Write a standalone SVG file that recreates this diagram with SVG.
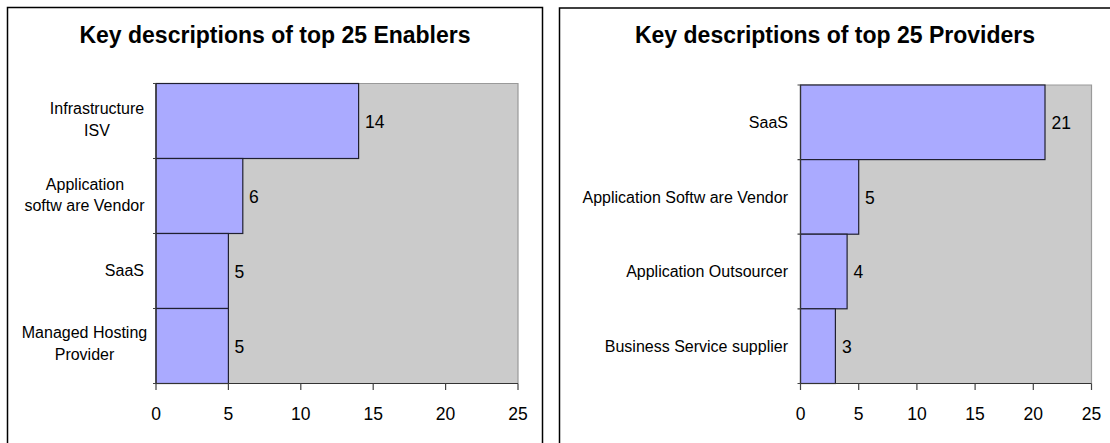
<svg xmlns="http://www.w3.org/2000/svg" width="1110" height="443" viewBox="0 0 1110 443">
<style>
.frame{fill:#fff;stroke:#000;stroke-width:1.5}
.plot{fill:#cbcbcb;stroke:none}
.pborder{fill:none;stroke:#9a9a9a;stroke-width:1.2}
.bar{fill:#aaaaff;stroke:#202030;stroke-width:1.2}
.axis{fill:none;stroke:#333;stroke-width:1.2}
.tick{fill:none;stroke:#444;stroke-width:1.2}
.title{font-family:"Liberation Sans",Arial,sans-serif;font-weight:bold;font-size:23px;fill:#000;text-anchor:middle}
.cat{font-family:"Liberation Sans",Arial,sans-serif;font-size:16px;fill:#000}
.catr{text-anchor:end}
.catm{text-anchor:middle}
.val{font-family:"Liberation Sans",Arial,sans-serif;font-size:17.5px;fill:#000}
.tl{font-family:"Liberation Sans",Arial,sans-serif;font-size:17.5px;fill:#000;text-anchor:middle}
</style>
<rect width="1110" height="443" fill="#fff"/>

<g id="chart-enablers">
  <rect class="frame" x="7.5" y="7.5" width="535" height="470"/>
  <text class="title" x="275" y="43">Key descriptions of top 25 Enablers</text>
  <rect class="plot" x="156" y="83.5" width="362" height="300"/>
  <path class="pborder" d="M156 83.5 H518 V383.5"/>
  <g id="enabler-infrastructure-isv">
    <rect class="bar" x="156" y="83.5" width="202.6" height="75"/>
    <text class="cat catm" x="97" y="113.5">Infrastructure</text>
    <text class="cat catm" x="97" y="135.5">ISV</text>
    <text class="val" x="365" y="127.5">14</text>
  </g>
  <g id="enabler-application-software-vendor">
    <rect class="bar" x="156" y="158.5" width="86.8" height="75"/>
    <text class="cat catm" x="85" y="189.5">Application</text>
    <text class="cat catm" x="84.5" y="211">softw are Vendor</text>
    <text class="val" x="249" y="202.5">6</text>
  </g>
  <g id="enabler-saas">
    <rect class="bar" x="156" y="233.5" width="72.4" height="75"/>
    <text class="cat catr" x="144" y="276">SaaS</text>
    <text class="val" x="234.5" y="277.5">5</text>
  </g>
  <g id="enabler-managed-hosting-provider">
    <rect class="bar" x="156" y="308.5" width="72.4" height="75"/>
    <text class="cat catm" x="84.5" y="337.5">Managed Hosting</text>
    <text class="cat catm" x="84.5" y="360">Provider</text>
    <text class="val" x="234.5" y="352.5">5</text>
  </g>
  <g id="enabler-axes">
    <path class="axis" d="M156 83.5 V383.5 H518"/>
    <path class="tick" d="M153 83.5 H156 M153 158.5 H156 M153 233.5 H156 M153 308.5 H156 M153 383.5 H156"/>
    <path class="tick" d="M156 383.5 V390 M228.4 383.5 V390 M300.8 383.5 V390 M373.2 383.5 V390 M445.6 383.5 V390 M518 383.5 V390"/>
    <text class="tl" x="156" y="419.5">0</text>
    <text class="tl" x="228.4" y="419.5">5</text>
    <text class="tl" x="300.8" y="419.5">10</text>
    <text class="tl" x="373.2" y="419.5">15</text>
    <text class="tl" x="445.6" y="419.5">20</text>
    <text class="tl" x="518" y="419.5">25</text>
  </g>
</g>

<g id="chart-providers">
  <rect class="frame" x="559.5" y="8" width="570" height="470"/>
  <text class="title" x="835" y="43">Key descriptions of top 25 Providers</text>
  <rect class="plot" x="800.5" y="85" width="291" height="298.5"/>
  <path class="pborder" d="M800.5 85 H1091.5 V383.5"/>
  <g id="provider-saas">
    <rect class="bar" x="800.5" y="85" width="244.5" height="74.6"/>
    <text class="cat catr" x="788" y="127.8">SaaS</text>
    <text class="val" x="1051.5" y="129">21</text>
  </g>
  <g id="provider-application-software-vendor">
    <rect class="bar" x="800.5" y="159.6" width="58.2" height="74.6"/>
    <text class="cat catr" x="788" y="202.5">Application Softw are Vendor</text>
    <text class="val" x="865" y="203.5">5</text>
  </g>
  <g id="provider-application-outsourcer">
    <rect class="bar" x="800.5" y="234.2" width="46.6" height="74.6"/>
    <text class="cat catr" x="788" y="277">Application Outsourcer</text>
    <text class="val" x="853.5" y="278">4</text>
  </g>
  <g id="provider-business-service-supplier">
    <rect class="bar" x="800.5" y="308.8" width="34.9" height="74.7"/>
    <text class="cat catr" x="788" y="351.5">Business Service supplier</text>
    <text class="val" x="842" y="352.5">3</text>
  </g>
  <g id="provider-axes">
    <path class="axis" d="M800.5 85 V383.5 H1091.5"/>
    <path class="tick" d="M797.5 85 H800.5 M797.5 159.6 H800.5 M797.5 234.2 H800.5 M797.5 308.8 H800.5 M797.5 383.5 H800.5"/>
    <path class="tick" d="M800.5 383.5 V390 M858.7 383.5 V390 M916.9 383.5 V390 M975.1 383.5 V390 M1033.3 383.5 V390 M1091.5 383.5 V390"/>
    <text class="tl" x="800.5" y="419.5">0</text>
    <text class="tl" x="858.7" y="419.5">5</text>
    <text class="tl" x="916.9" y="419.5">10</text>
    <text class="tl" x="975.1" y="419.5">15</text>
    <text class="tl" x="1033.3" y="419.5">20</text>
    <text class="tl" x="1091.5" y="419.5">25</text>
  </g>
</g>
</svg>
